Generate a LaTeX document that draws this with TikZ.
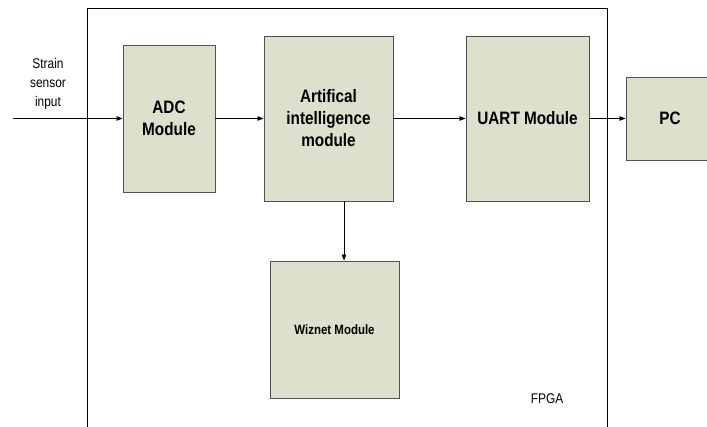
\documentclass[tikz,border=0pt]{standalone}
\usepackage{fontspec}
\setmainfont{Liberation Sans}[FakeStretch=0.85]
\usetikzlibrary{arrows.meta}
\definecolor{boxfill}{HTML}{DDE0CC}
\definecolor{boxline}{HTML}{505050}
\begin{document}
\begin{tikzpicture}[x=1pt,y=-1pt,
  module/.style={draw=boxline,line width=0.9pt,fill=boxfill,inner sep=0pt,align=center,
    font=\fontsize{18}{22}\selectfont\bfseries},
  conn/.style={line width=0.8pt,-{Triangle[length=6pt,width=4.5pt]}},
  lbl/.style={font=\fontsize{14}{19}\selectfont,align=center,inner sep=0pt}]
\useasboundingbox (0,0) rectangle (707,426);
% FPGA frame
\draw[line width=0.8pt] (87,440) -- (87,8) -- (607,8) -- (607,440);
\node[lbl] (fpga) at (547,399) {FPGA};
% modules
\node[module,minimum width=92pt,minimum height=147pt] (adc) at (169,118.5) {ADC\\Module};
\node[module,minimum width=129pt,minimum height=165pt] (ai) at (328.5,118.5) {Artifical\\intelligence\\module};
\node[module,minimum width=123pt,minimum height=165pt] (uart) at (527.5,118.5) {UART Module};
\node[module,minimum width=88pt,minimum height=83pt] (pc) at (670,118.5) {PC};
\node[module,minimum width=129pt,minimum height=137pt,font=\fontsize{13.5}{16}\selectfont\bfseries] (wiz) at (334.5,329.5) {Wiznet Module};
% input
\node[lbl] (strain) at (48,84) {Strain\\sensor\\input};
\coordinate (in) at (13,118.5);
\coordinate (aiX) at (344,0);
% connectors
\draw[conn] (in) -- (adc.west);
\draw[conn] (adc.east) -- (ai.west);
\draw[conn] (ai.east) -- (uart.west);
\draw[conn] (uart.east) -- (pc.west);
\draw[conn] (ai.south -| aiX) -- (wiz.north -| aiX);
\end{tikzpicture}
\end{document}
